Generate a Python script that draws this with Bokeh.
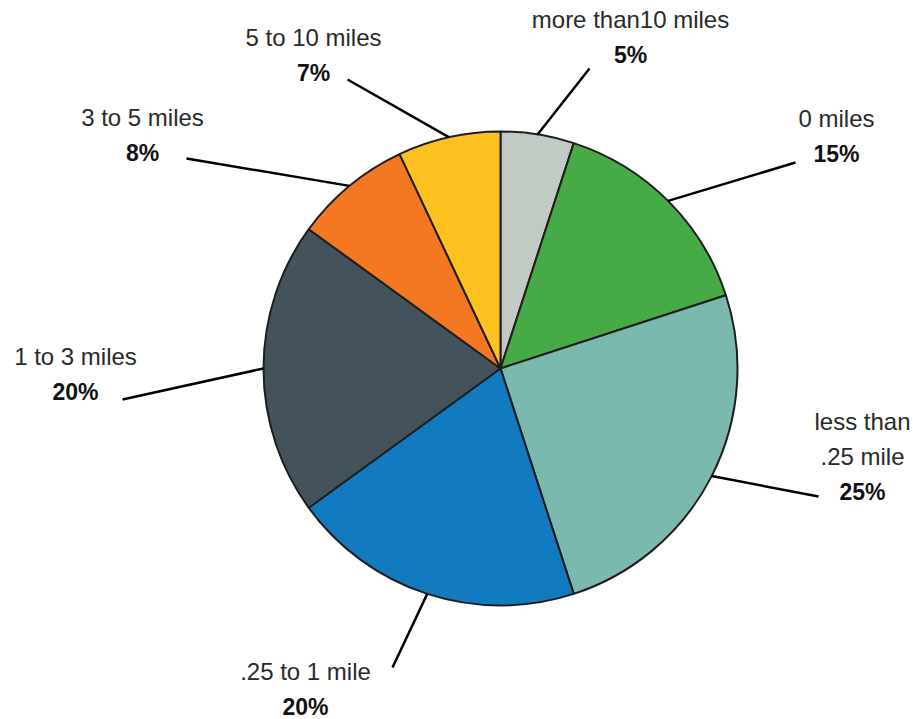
import math
from bokeh.plotting import figure
from bokeh.models import Range1d, ColumnDataSource
from bokeh.core.properties import value
from bokeh.embed import file_html
from bokeh.resources import INLINE

# Distance travelled: share of respondents, clockwise from 12 o'clock
categories = ["more than10 miles", "0 miles", "less than\n.25 mile", ".25 to 1 mile",
              "1 to 3 miles", "3 to 5 miles", "5 to 10 miles"]
shares = [5, 15, 25, 20, 20, 8, 7]
colors = ["#c2cbc3", "#46aa46", "#7bb8ad", "#127bc0", "#44525c", "#f47721", "#fdc220"]

# Layout (page pixels, y measured downward)
W, H = 913, 719
CX, CY, R = 500, 368, 237
label_xy = [(630, 19), (836, 118), (862, 421), (305, 671), (75, 356), (142, 117), (313, 37)]
leader_end = [(589, 68), (795, 162), (818, 496), (392, 667), (122, 399), (186, 158), (347, 79)]
LINE_GAP = 35

FONT = "Liberation Sans"

p = figure(width=W, height=H, x_range=Range1d(0, W), y_range=Range1d(0, H),
           output_backend="svg", toolbar_location=None, min_border=0)
p.axis.visible = False
p.grid.visible = False
p.outline_line_color = None
p.background_fill_color = "white"
p.border_fill_color = "white"

total = float(sum(shares))
starts, ends, mids = [], [], []
cum = 0.0
for s in shares:
    a0 = math.pi / 2 - 2 * math.pi * cum / total
    cum += s
    a1 = math.pi / 2 - 2 * math.pi * cum / total
    starts.append(a1)
    ends.append(a0)
    mids.append((a0 + a1) / 2)

src = ColumnDataSource(dict(start=starts, end=ends, color=colors))
p.wedge(x=CX, y=H - CY, radius=R, start_angle="start", end_angle="end",
        fill_color="color", line_color="#1e1e1e", line_width=2, source=src)

# Leader lines from the arc at each slice's mid-angle to its label
xs, ys = [], []
for m, (ex, ey) in zip(mids, leader_end):
    xs.append([CX + R * math.cos(m), ex])
    ys.append([H - CY + R * math.sin(m), H - ey])
p.multi_line(xs=xs, ys=ys, line_color="#000000", line_width=2.5)

# Labels: category name lines, then the bold percentage
nx, ny, nt = [], [], []
px, py, pt = [], [], []
for cat, s, (lx, ly) in zip(categories, shares, label_xy):
    lines = cat.split("\n")
    for i, ln in enumerate(lines):
        nx.append(lx)
        ny.append(H - (ly + i * LINE_GAP))
        nt.append(ln)
    px.append(lx)
    py.append(H - (ly + len(lines) * LINE_GAP))
    pt.append(f"{s}%")

p.text(x=nx, y=ny, text=nt, text_align="center", text_baseline="middle",
       text_font=value(FONT), text_font_size="24px", text_color="#2a2a2a")
p.text(x=px, y=py, text=pt, text_align="center", text_baseline="middle",
       text_font=value(FONT), text_font_size="23px", text_font_style="bold",
       text_color="#111111")

open("out.html", "w").write(file_html(p, INLINE))
